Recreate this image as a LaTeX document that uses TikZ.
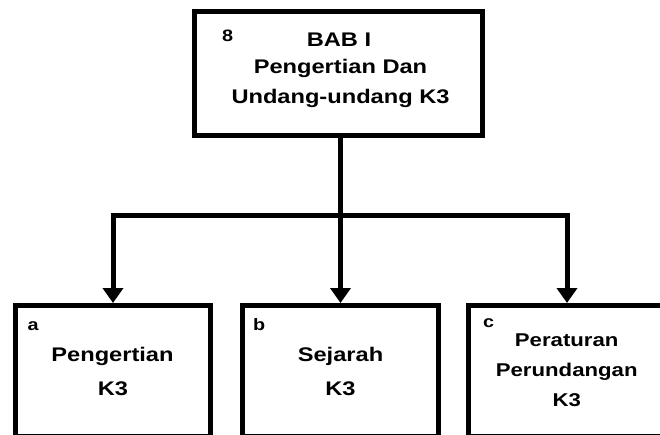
\documentclass[tikz,border=0pt]{standalone}
\usepackage{fontspec}
\setmainfont{Liberation Sans}[FakeStretch=1.2]
\usetikzlibrary{arrows.meta}
\begin{document}
\begin{tikzpicture}[x=1pt,y=-1pt,
  box/.style={draw,line width=5pt,rectangle,inner sep=0pt},
  conn/.style={line width=5pt},
  arr/.style={conn,-{Triangle[width=20pt,length=15pt]}},
  maintext/.style={anchor=base,font=\bfseries\fontsize{19.7}{24}\selectfont,inner sep=0pt},
  smalltext/.style={anchor=base,font=\bfseries\fontsize{18.5}{24}\selectfont,inner sep=0pt},
  tag/.style={anchor=base west,font=\bfseries\fontsize{16.5}{18}\selectfont,inner sep=0pt}]
\useasboundingbox (0,0) rectangle (660,435);
\clip (0,0) rectangle (660,435);

% chapter box
\node[box,minimum width=288pt,minimum height=124pt] (top) at (338.5,73.5) {};
\node[tag] (tagtop) at (222,41.5) {8};
\node[maintext] (t1) at (339,46.7) {BAB I};
\node[maintext] (t2) at (340.5,74) {Pengertian Dan};
\node[maintext] (t3) at (340.5,103.3) {Undang-undang K3};

% sub-topic boxes (running off the lower edge)
\node[box,minimum width=195pt,minimum height=131pt] (a) at (113,371) {};
\node[box,minimum width=196pt,minimum height=131pt] (b) at (340.5,371) {};
\node[box,minimum width=197pt,minimum height=131pt] (c) at (567,371) {};

\node[tag] (taga) at (27.3,330.5) {a};
\node[maintext] (a1) at (112.5,361.7) {Pengertian};
\node[maintext] (a2) at (113,395) {K3};

\node[tag] (tagb) at (253,330.5) {b};
\node[maintext] (b1) at (340.5,361.7) {Sejarah};
\node[maintext] (b2) at (340.5,395) {K3};

\node[tag] (tagc) at (483,327.5) {c};
\node[smalltext] (c1) at (566.7,346.7) {Peraturan};
\node[smalltext] (c2) at (566.7,376.7) {Perundangan};
\node[smalltext] (c3) at (566.7,406.7) {K3};

% connectors
\coordinate (j) at (340.5,215.5);
\draw[conn] (top.south -| j) -- (j);
\draw[arr] (j) -| (a.north);
\draw[arr] (j) -- (b.north);
\draw[arr] (j) -| (c.north);
\end{tikzpicture}
\end{document}
